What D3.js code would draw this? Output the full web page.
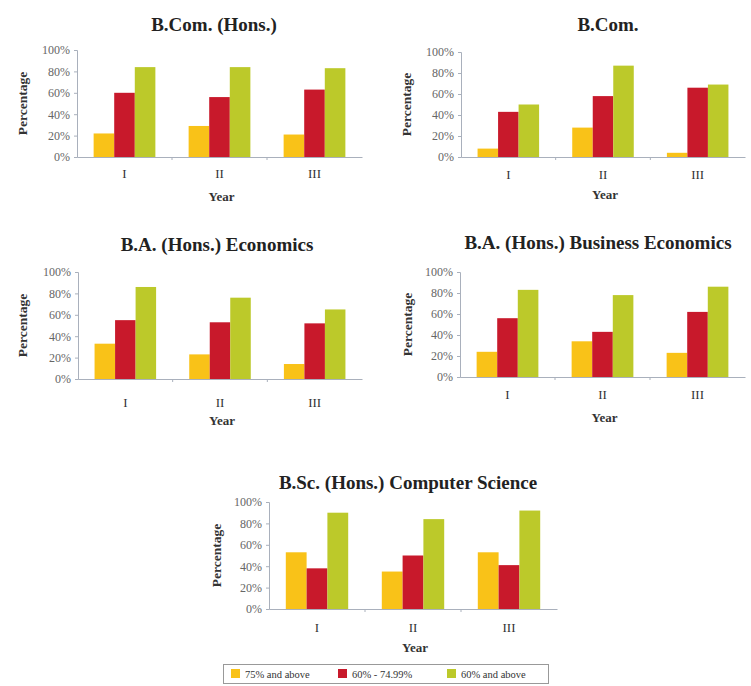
<!DOCTYPE html>
<html><head><meta charset="utf-8">
<script src="https://cdn.jsdelivr.net/npm/d3@7"></script>
<style>
html,body{margin:0;padding:0;background:#fff;}
svg{display:block;font-family:"Liberation Serif","DejaVu Serif",serif;}
</style></head>
<body>
<svg id="chart" width="751" height="686"></svg>
<script>
// ---- data ----
const years = ["I", "II", "III"];
const seriesNames = ["75% and above", "60% - 74.99%", "60% and above"];
const panelTitles = ["B.Com. (Hons.)", "B.Com.", "B.A. (Hons.) Economics", "B.A. (Hons.) Business Economics", "B.Sc. (Hons.) Computer Science"];
const yTicks = [0, 20, 40, 60, 80, 100];
// values per panel: [series][year]
const bcomHons = [[22, 29, 21], [60, 56, 63], [84, 84, 83]];
const bcom = [[8, 28, 4], [43, 58, 66], [50, 87, 69]];
const baEco = [[33, 23, 14], [55, 53, 52], [86, 76, 65]];
const baBusEco = [[24, 34, 23], [56, 43, 62], [83, 78, 86]];
const bscCS = [[53, 35, 53], [38, 50, 41], [90, 84, 92]];
const panelData = [bcomHons, bcom, baEco, baBusEco, bscCS];

// ---- styles / layout ----
const colors = ["#F9C218", "#C8192B", "#BCC92A"];
const axisColor = "#A9B0BC";
const serif = "Liberation Serif";
const layouts = [
  {x0: 77, x1: 362, yb: 157, yt: 50, tx: 214, ty: 31, lx: 22, tickY: 178, yearY: 201},
  {x0: 461, x1: 745, yb: 157, yt: 52, tx: 608, ty: 31, lx: 406, tickY: 179, yearY: 199},
  {x0: 78, x1: 362, yb: 379, yt: 272, tx: 217, ty: 251, lx: 22, tickY: 407, yearY: 425},
  {x0: 460, x1: 745, yb: 377, yt: 272, tx: 598, ty: 249, lx: 407, tickY: 399, yearY: 422},
  {x0: 269, x1: 557, yb: 609, yt: 502, tx: 408, ty: 489, lx: 216, tickY: 632, yearY: 652}
];

const svg = d3.select("#chart");

panelData.forEach((data, pi) => {
  const L = layouts[pi];
  const g = svg.append("g");
  const x = d3.scaleBand().domain(years).range([L.x0, L.x1]).paddingInner(0.35).paddingOuter(0.175);
  const xs = d3.scaleBand().domain(d3.range(seriesNames.length)).range([0, x.bandwidth()]).padding(0);
  const y = d3.scaleLinear().domain([0, 100]).range([L.yb, L.yt]);

  // title
  g.append("text").attr("x", L.tx).attr("y", L.ty).attr("text-anchor", "middle")
    .attr("font-family", serif).attr("font-size", 19).attr("font-weight", "bold").attr("fill", "#222").text(panelTitles[pi]);

  // bars
  data.forEach((vals, si) => {
    g.selectAll(null).data(vals).enter().append("rect")
      .attr("x", (d, i) => x(years[i]) + xs(si))
      .attr("width", xs.bandwidth())
      .attr("y", d => y(d))
      .attr("height", d => y(0) - y(d))
      .attr("fill", colors[si]);
  });

  // y axis
  const ya = g.append("g").attr("transform", `translate(${L.x0},0)`)
    .call(d3.axisLeft(y).tickValues(yTicks).tickFormat(d => d + "%").tickSize(3).tickPadding(4));
  ya.attr("font-family", serif);
  ya.select(".domain").attr("stroke", axisColor);
  ya.selectAll(".tick line").attr("stroke", axisColor);
  ya.selectAll("text").attr("font-family", serif).attr("font-size", 12).attr("fill", "#666");

  // x axis
  const xa = g.append("g").attr("transform", `translate(0,${L.yb})`)
    .call(d3.axisBottom(x).tickSize(0).tickPadding(0));
  xa.attr("font-family", serif);
  xa.select(".domain").attr("stroke", axisColor);
  xa.selectAll(".tick text").attr("font-family", serif).attr("font-size", 13)
    .attr("fill", "#333").attr("dy", 0).attr("y", L.tickY - L.yb);
  // category separator ticks
  const seps = years.slice(1).map(c => x(c) - x.step() * x.paddingInner() / 2);
  g.selectAll(null).data(seps).enter().append("line")
    .attr("x1", d => d).attr("x2", d => d).attr("y1", L.yb).attr("y2", L.yb + 3)
    .attr("stroke", axisColor);

  // axis titles
  g.append("text").attr("x", (L.x0 + L.x1) / 2 + 2).attr("y", L.yearY).attr("text-anchor", "middle")
    .attr("font-family", serif).attr("font-size", 13).attr("font-weight", "bold").attr("fill", "#333").text("Year");
  g.append("text").attr("transform", `translate(${L.lx},${(L.yb + L.yt) / 2}) rotate(-90)`)
    .attr("text-anchor", "middle").attr("dy", "0.35em")
    .attr("font-family", serif).attr("font-size", 13.5).attr("font-weight", "bold").attr("fill", "#333").text("Percentage");
});

// legend
const lg = svg.append("g");
lg.append("rect").attr("x", 223.5).attr("y", 664.5).attr("width", 325).attr("height", 19)
  .attr("fill", "#fff").attr("stroke", "#999");
const legXs = [231, 338, 447];
seriesNames.forEach((name, i) => {
  const lx = legXs[i];
  lg.append("rect").attr("x", lx).attr("y", 669).attr("width", 9).attr("height", 9).attr("fill", colors[i]);
  lg.append("text").attr("x", lx + 14).attr("y", 677.5).attr("font-family", serif).attr("font-size", 10.5).attr("fill", "#333").text(name);
});
</script>
</body></html>
